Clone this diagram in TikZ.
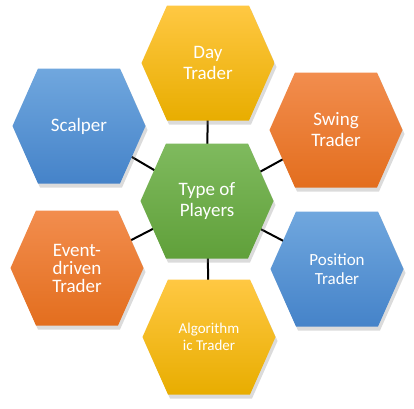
\documentclass[tikz,border=0pt]{standalone}
\usepackage{fontspec}
\setmainfont{Carlito}
\usetikzlibrary{shadows}
\pgfdeclarelayer{bg}\pgfdeclarelayer{mid}
\pgfsetlayers{bg,mid,main}
\definecolor{goldT}{HTML}{FFC843}
\definecolor{goldB}{HTML}{E8AD00}
\definecolor{orangeT}{HTML}{F28D4E}
\definecolor{orangeB}{HTML}{E36E1E}
\definecolor{blueT}{HTML}{70A7DE}
\definecolor{blueB}{HTML}{4583C9}
\definecolor{greenT}{HTML}{7FBA5E}
\definecolor{greenB}{HTML}{60A03A}
\tikzset{
  hexlabel/.style={text=white, align=center, font=\fontsize{19}{21}\selectfont},
  link/.style={line width=2pt, black},
}
\newcommand\hexshape[3]{%
  \begin{pgfonlayer}{mid}
  \shade[top color=#2, bottom color=#3,
    drop shadow={opacity=0.28, shadow xshift=2pt, shadow yshift=-4pt},
    shift={(#1.center)}]
    (-66.5,0) -- (-41,-57.5) -- (41,-57.5) -- (66.5,0) -- (41,57.5) -- (-41,57.5) -- cycle;
  \end{pgfonlayer}}
\begin{document}
\begin{tikzpicture}[x=1pt,y=-1pt]
\useasboundingbox (0,0) rectangle (414,408);
\begin{pgfonlayer}{bg}
\fill[white] (0,0) rectangle (414,408);
\end{pgfonlayer}
\node[hexlabel] (c) at (207,201) {Type of\\Players};
\node[hexlabel] (day) at (208,63) {Day\\Trader};
\node[hexlabel] (scal) at (79,126) {Scalper};
\node[hexlabel] (swing) at (336,130) {Swing\\Trader};
\node[hexlabel, font=\fontsize{19}{18}\selectfont] (event) at (77,268) {Event-\\driven\\Trader};
\node[hexlabel, font=\fontsize{17}{19}\selectfont] (pos) at (337,269) {Position\\Trader};
\node[hexlabel, font=\fontsize{15}{17}\selectfont] (algo) at (209,337) {Algorithm\\ic Trader};
\hexshape{c}{greenT}{greenB}
\hexshape{day}{goldT}{goldB}
\hexshape{scal}{blueT}{blueB}
\hexshape{swing}{orangeT}{orangeB}
\hexshape{event}{orangeT}{orangeB}
\hexshape{pos}{blueT}{blueB}
\hexshape{algo}{goldT}{goldB}
\begin{pgfonlayer}{bg}
\draw[link] (c.center) -- (day.center);
\draw[link] (c.center) -- (scal.center);
\draw[link] (c.center) -- (swing.center);
\draw[link] (c.center) -- (event.center);
\draw[link] (c.center) -- (pos.center);
\draw[link] (c.center) -- (algo.center);
\end{pgfonlayer}
\end{tikzpicture}
\end{document}
